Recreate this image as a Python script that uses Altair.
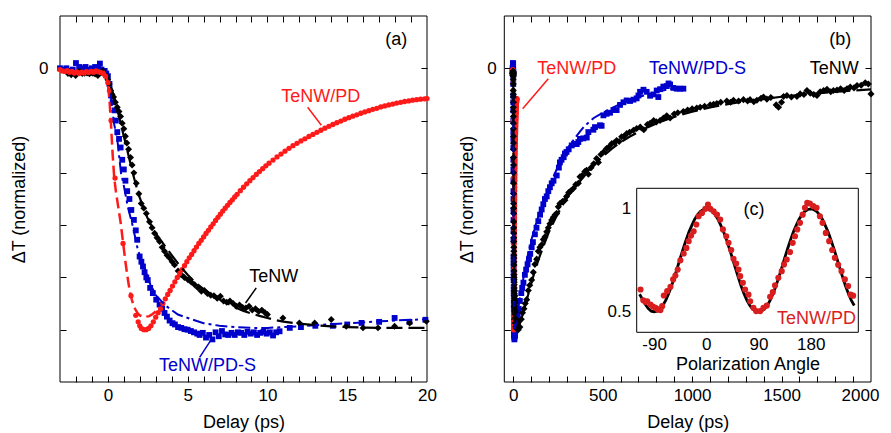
import altair as alt
import pandas as pd

FONT = "Liberation Sans"
RED = "#ff1a1a"
BLUE = "#0000cc"
BLACK = "#000000"
DRED = "#d81e1e"

# ---------------- data: panel (a) time window (ps) ----------------
red_pts = [(-3.0,-0.005),(-2.85,-0.01),(-2.7,-0.012),(-2.55,-0.009),(-2.4,-0.015),(-2.25,-0.012),
    (-2.1,-0.018),(-1.95,-0.014),(-1.8,-0.02),(-1.65,-0.015),(-1.5,-0.018),(-1.35,-0.013),(-1.2,-0.016),
    (-1.05,-0.012),(-0.9,-0.015),(-0.75,-0.01),(-0.6,-0.013),(-0.45,-0.016),(-0.3,-0.02),(-0.15,-0.03),
    (0.0,-0.055),(0.1,-0.085),(0.2,-0.2),(0.45,-0.42),(0.95,-0.67),(1.45,-0.87),(1.75,-0.945),
    (1.9,-0.97),(2.0,-0.985),(2.1,-0.995),(2.25,-1.0),(2.4,-1.0),
    (2.55,-0.995),(2.7,-0.985),(2.85,-0.97),(3.0,-0.952),(3.15,-0.935),(3.3,-0.92),(3.45,-0.9),
    (3.6,-0.882),(3.75,-0.865),(3.9,-0.85),(4.05,-0.833),(4.2,-0.817),(4.35,-0.8),(4.5,-0.785),
    (4.65,-0.77),(4.8,-0.755),(4.95,-0.74),(5.1,-0.725),(5.25,-0.712),(5.4,-0.698),(5.55,-0.684),
    (5.7,-0.67),(5.85,-0.658),(6.0,-0.645),(6.15,-0.632),(6.3,-0.62),(6.45,-0.607),(6.6,-0.595),
    (6.75,-0.582),(6.9,-0.57),(7.05,-0.558),(7.2,-0.546),(7.35,-0.535),(7.5,-0.524),(7.65,-0.513),
    (7.8,-0.503),(7.95,-0.492),(8.1,-0.482),(8.3,-0.468),(8.5,-0.455),(8.7,-0.442),(8.9,-0.43),
    (9.1,-0.418),(9.3,-0.406),(9.5,-0.395),(9.7,-0.384),(9.9,-0.373),(10.1,-0.363),(10.35,-0.351),
    (10.6,-0.339),(10.85,-0.328),(11.1,-0.317),(11.35,-0.306),(11.6,-0.296),(11.85,-0.287),
    (12.1,-0.278),(12.35,-0.27),(12.6,-0.261),(12.85,-0.253),(13.1,-0.245),(13.35,-0.237),
    (13.6,-0.229),(13.85,-0.222),(14.1,-0.215),(14.35,-0.208),(14.6,-0.202),(14.85,-0.195),
    (15.1,-0.189),(15.35,-0.183),(15.6,-0.178),(15.85,-0.172),(16.1,-0.167),(16.35,-0.162),
    (16.6,-0.157),(16.85,-0.153),(17.1,-0.148),(17.35,-0.144),(17.6,-0.14),(17.85,-0.137),
    (18.1,-0.133),(18.35,-0.13),(18.6,-0.127),(18.85,-0.125),(19.1,-0.122),(19.35,-0.12),
    (19.6,-0.118),(19.85,-0.117),(20.0,-0.116)]
red_fit = [(-0.3,-0.01),(-0.1,-0.03),(0.0,-0.06),(0.1,-0.12),(0.2,-0.22),(0.3,-0.33),(0.4,-0.42),
    (0.5,-0.47),(0.6,-0.51),(0.7,-0.55),(0.8,-0.59),(0.9,-0.64),(1.0,-0.69),(1.1,-0.74),(1.2,-0.785),
    (1.3,-0.825),(1.4,-0.86),(1.5,-0.885),(1.6,-0.905),(1.7,-0.92),(1.8,-0.93),(1.9,-0.94),(2.0,-0.945),
    (2.2,-0.95),(2.4,-0.95),(2.6,-0.948),(2.8,-0.94),(3.0,-0.93)]
blue_pts = [(-3.0,0.0),(-2.8,-0.005),(-2.6,0.0),(-2.4,-0.01),(-2.2,-0.005),(-2.0,0.02),(-1.8,0.005),
    (-1.6,0.0),(-1.4,0.005),(-1.2,-0.005),(-1.0,0.0),(-0.8,0.005),(-0.6,0.0),(-0.5,0.018),(-0.4,-0.005),
    (-0.2,-0.01),(-0.1,-0.02),(0.0,-0.03),(0.1,-0.06),(0.2,-0.104),(0.3,-0.13),(0.42,-0.161),(0.5,-0.2),
    (0.59,-0.244),(0.7,-0.27),(0.8,-0.303),(0.9,-0.35),(1.0,-0.387),(1.1,-0.43),(1.21,-0.47),(1.35,-0.5),
    (1.47,-0.542),(1.63,-0.58),(1.75,-0.62),(1.84,-0.656),(1.99,-0.72),(2.1,-0.74),(2.2,-0.758),
    (2.3,-0.78),(2.41,-0.8),(2.5,-0.81),(2.65,-0.84),(2.82,-0.86),(3.03,-0.885),(3.24,-0.904),
    (3.4,-0.92),(3.55,-0.936),(3.7,-0.95),(3.87,-0.965),(4.05,-0.975),(4.2,-0.98),(4.4,-0.99),
    (4.6,-0.993),(4.8,-0.998),(5.0,-1.0),(5.2,-1.005),(5.4,-1.01),(5.6,-1.015),(5.75,-1.02),
    (5.95,-1.012),(6.15,-1.03),(6.35,-1.02),(6.55,-1.037),(6.75,-1.01),(6.95,-1.025),(7.15,-1.005),
    (7.35,-1.018),(7.55,-1.02),(7.75,-1.012),(7.95,-1.02),(8.15,-1.01),(8.35,-1.012),(8.55,-1.02),
    (8.75,-1.008),(8.95,-1.015),(9.15,-1.01),(9.35,-1.02),(9.55,-1.012),(9.75,-1.008),(9.95,-1.015),
    (10.15,-1.01),(10.35,-1.022),(10.55,-1.01),(10.76,-1.006),(11.4,-0.993),(12.1,-0.99),(13.0,-0.985),
    (14.1,-0.985),(15.0,-0.98),(15.9,-0.974),(17.0,-0.97),(17.97,-0.955),(18.9,-0.97),(19.9,-0.962)]
blue_fit = [(0.17,-0.098),(0.38,-0.21),(0.59,-0.27),(0.73,-0.35),(0.84,-0.41),(0.94,-0.43),
    (1.25,-0.53),(1.57,-0.606),(1.88,-0.695),(2.3,-0.764),(2.61,-0.82),(3.03,-0.87),(3.66,-0.91),
    (4.39,-0.942),(5.23,-0.96),(6.0,-0.975),(7.0,-0.985),(8.0,-0.99),(9.0,-0.993),(10.0,-0.993),
    (11.0,-0.99),(12.0,-0.987),(13.0,-0.983),(14.0,-0.979),(15.0,-0.975),(16.0,-0.972),(17.0,-0.968),
    (18.0,-0.965),(19.0,-0.962),(20.0,-0.96)]
black_pts = [(-2.5,-0.02),(-2.3,-0.025),(-2.02,-0.028),(-1.9,-0.015),(-1.77,-0.011),(-1.6,-0.02),
    (-1.46,-0.019),(-1.3,-0.018),(-1.15,-0.021),(-1.05,-0.016),(-0.94,-0.019),(-0.8,-0.022),
    (-0.63,-0.028),(-0.5,-0.018),(-0.4,-0.015),(-0.31,-0.011),(-0.21,-0.024),(-0.1,-0.03),(0.0,-0.044),
    (0.08,-0.06),(0.17,-0.085),(0.26,-0.1),(0.36,-0.11),(0.47,-0.13),(0.59,-0.149),(0.7,-0.165),
    (0.8,-0.184),(0.9,-0.21),(1.0,-0.231),(1.1,-0.26),(1.19,-0.286),(1.3,-0.31),(1.42,-0.341),
    (1.52,-0.37),(1.63,-0.4),(1.78,-0.44),(1.94,-0.48),(2.09,-0.517),(2.25,-0.535),(2.41,-0.555),
    (2.61,-0.587),(2.77,-0.61),(2.93,-0.631),(3.08,-0.648),(3.24,-0.663),(3.4,-0.685),(3.55,-0.7),
    (3.71,-0.715),(3.87,-0.726),(4.03,-0.74),(4.18,-0.752),(4.4,-0.775),(4.6,-0.79),(4.8,-0.8),
    (5.02,-0.809),(5.23,-0.818),(5.44,-0.828),(5.65,-0.84),(5.86,-0.853),(6.05,-0.85),(6.25,-0.862),
    (6.45,-0.868),(6.65,-0.87),(6.85,-0.88),(7.05,-0.872),(7.25,-0.89),(7.45,-0.895),(7.65,-0.89),
    (7.85,-0.9),(8.05,-0.91),(8.25,-0.905),(8.45,-0.915),(8.65,-0.917),(8.85,-0.91),(9.05,-0.925),
    (9.25,-0.92),(9.45,-0.93),(9.65,-0.925),(9.85,-0.935),(10.0,-0.942),(10.97,-0.955),(12.0,-0.974),
    (12.96,-0.974),(14.0,-0.961),(14.94,-0.987),(15.99,-0.993),(16.93,-0.993),(17.97,-0.987),
    (18.91,-0.974),(19.96,-0.968)]
black_fit = [(0.2,-0.07),(0.4,-0.11),(0.6,-0.16),(0.8,-0.21),(1.0,-0.26),(1.2,-0.31),(1.4,-0.36),
    (1.6,-0.41),(1.8,-0.455),(2.0,-0.495),(2.2,-0.53),(2.5,-0.575),(2.8,-0.61),(3.1,-0.64),(3.4,-0.665),
    (3.7,-0.69),(4.0,-0.715),(4.5,-0.755),(5.0,-0.79),(5.5,-0.82),(6.0,-0.845),(6.5,-0.865),(7.0,-0.885),
    (7.5,-0.9),(8.0,-0.915),(8.5,-0.928),(9.0,-0.938),(9.5,-0.947),(10.0,-0.955),(10.5,-0.963),
    (11.0,-0.969),(12.0,-0.977),(13.0,-0.983),(14.0,-0.987),(15.0,-0.99),(16.0,-0.992),(17.0,-0.993),
    (18.0,-0.993),(19.0,-0.993),(20.0,-0.993)]

# ---------------- data: panel (b) long time window (ps) ----------------
blue_long = [(25,-0.94),(30,-0.92),(37,-0.89),(45,-0.86),(50,-0.84),(57,-0.82),(65,-0.79),(72,-0.77),
    (80,-0.75),(88,-0.73),(95,-0.71),(103,-0.685),(110,-0.665),(121,-0.635),(130,-0.61),(140,-0.585),
    (150,-0.56),(159,-0.54),(168,-0.52),(177,-0.5),(187,-0.49),(196,-0.47),(205,-0.455),(215,-0.44),
    (225,-0.43),(243,-0.41),(255,-0.38),(261,-0.36),(270,-0.35),(282,-0.34),(289,-0.326),(298,-0.32),
    (310,-0.31),(327,-0.295),(340,-0.29),(355,-0.29),(364,-0.282),(373,-0.27),(392,-0.268),(411,-0.265),
    (420,-0.244),(448,-0.235),(457,-0.225),(485,-0.218),(494,-0.22),(504,-0.18),(522,-0.174),
    (541,-0.17),(560,-0.16),(578,-0.16),(597,-0.14),(616,-0.13),(634,-0.123),(653,-0.125),(672,-0.12),
    (690,-0.115),(700,-0.104),(709,-0.09),(728,-0.082),(746,-0.09),(765,-0.105),(783,-0.1),(802,-0.085),
    (811,-0.11),(821,-0.08),(839,-0.07),(858,-0.068),(868,-0.058),(877,-0.062),(895,-0.075),
    (914,-0.078),(933,-0.078),(951,-0.078)]
blue_long_fit = [(30,-0.91),(40,-0.87),(60,-0.79),(80,-0.72),(100,-0.66),(125,-0.6),(150,-0.545),
    (175,-0.5),(200,-0.455),(225,-0.415),(250,-0.375),(275,-0.34),(300,-0.31),(325,-0.285),
    (350,-0.262),(375,-0.24),(400,-0.22),(450,-0.19),(500,-0.17),(550,-0.152),(600,-0.136),
    (650,-0.123),(700,-0.11),(750,-0.1),(800,-0.09),(850,-0.083),(900,-0.077),(950,-0.073)]
black_long = [(28,-1.0),(37,-0.99),(45,-0.96),(52,-0.935),(60,-0.92),(67,-0.9),(75,-0.885),(84,-0.85),
    (92,-0.83),(103,-0.81),(112,-0.78),(121,-0.75),(131,-0.73),(140,-0.7),(149,-0.685),(159,-0.675),
    (168,-0.655),(177,-0.645),(187,-0.625),(196,-0.61),(205,-0.595),(215,-0.58),(224,-0.57),(234,-0.56),
    (243,-0.555),(252,-0.53),(261,-0.517),(275,-0.51),(289,-0.505),(298,-0.49),(310,-0.475),(320,-0.47),
    (336,-0.46),(350,-0.445),(364,-0.44),(373,-0.415),(385,-0.41),(400,-0.395),(410,-0.39),(420,-0.405),
    (435,-0.38),(450,-0.365),(466,-0.345),(476,-0.36),(490,-0.33),(505,-0.32),(522,-0.307),(536,-0.3),
    (551,-0.288),(565,-0.285),(578,-0.276),(592,-0.28),(606,-0.262),(620,-0.26),(634,-0.25),
    (650,-0.245),(672,-0.237),(690,-0.23),(710,-0.225),(730,-0.235),(750,-0.215),(765,-0.21),
    (785,-0.2),(800,-0.205),(821,-0.2),(840,-0.19),(858,-0.182),(877,-0.19),(900,-0.175),(920,-0.17),
    (951,-0.165),(975,-0.16),(1000,-0.155),(1026,-0.152),(1045,-0.149),(1070,-0.145),(1101,-0.14),
    (1120,-0.138),(1138,-0.135),(1160,-0.13),(1194,-0.125),(1215,-0.13),(1231,-0.122),(1260,-0.125),
    (1287,-0.12),(1310,-0.125),(1324,-0.12),(1345,-0.128),(1362,-0.122),(1385,-0.115),(1399,-0.11),
    (1418,-0.118),(1440,-0.112),(1470,-0.14),(1483,-0.149),(1500,-0.13),(1511,-0.108),(1530,-0.104),
    (1555,-0.11),(1586,-0.108),(1604,-0.098),(1625,-0.1),(1642,-0.085),(1660,-0.095),(1680,-0.1),
    (1698,-0.104),(1716,-0.09),(1735,-0.085),(1754,-0.08),(1775,-0.09),(1790,-0.085),(1810,-0.083),
    (1830,-0.078),(1850,-0.085),(1866,-0.078),(1884,-0.072),(1905,-0.075),(1922,-0.066),(1945,-0.065),
    (1968,-0.055),(1985,-0.06),(2000,-0.098)]
black_long_fit = [(30,-0.99),(40,-0.97),(60,-0.925),(80,-0.875),(100,-0.825),(125,-0.765),
    (150,-0.715),(175,-0.67),(200,-0.625),(250,-0.555),(300,-0.495),(350,-0.45),(400,-0.41),
    (450,-0.372),(500,-0.338),(550,-0.308),(600,-0.283),(650,-0.262),(700,-0.243),(750,-0.226),
    (800,-0.211),(900,-0.186),(1000,-0.166),(1100,-0.15),(1200,-0.137),(1300,-0.126),(1400,-0.117),
    (1500,-0.109),(1600,-0.102),(1700,-0.096),(1800,-0.09),(1900,-0.085),(2000,-0.081)]

# ---------------- data: inset (c) polarization ----------------
pol_pts = [(-113.4,0.608),(-108.7,0.556),(-105,0.548),(-101.9,0.551),(-96.2,0.535),(-92,0.525),
    (-87.6,0.519),(-84,0.512),(-81.9,0.511),(-79,0.508),(-76.1,0.527),(-73.3,0.579),(-67.5,0.60),
    (-61.8,0.621),(-57.2,0.657),(-53.3,0.676),(-49.3,0.705),(-44.7,0.75),(-39,0.783),(-34.3,0.81),
    (-30.4,0.843),(-26.3,0.87),(-21.8,0.891),(-17.2,0.924),(-13.2,0.964),(-7.4,0.98),(-1.7,1.0),
    (2.9,1.021),(6.9,1.0),(12.6,0.988),(18.4,0.972),(24,0.948),(28.6,0.9),(34.4,0.867),(38.3,0.835),
    (42.9,0.80),(46.9,0.757),(51.5,0.734),(55.5,0.705),(58.4,0.673),(63,0.641),(66.9,0.608),
    (72.7,0.583),(75.6,0.551),(81.2,0.519),(85.9,0.503),(92.8,0.503),(98.5,0.519),(104.3,0.53),
    (110,0.573),(114.6,0.595),(118.5,0.628),(124.2,0.665),(130,0.697),(133.9,0.73),(138.6,0.754),
    (144.3,0.79),(148.9,0.835),(152.9,0.867),(156.8,0.9),(161.5,0.932),(166.1,0.972),(170,1.005),
    (174,1.029),(178.6,1.026),(184.3,1.013),(190.1,1.005),(195.8,0.964),(200.4,0.932),(206,0.883),
    (211.8,0.843),(217,0.80),(221.6,0.762),(227.3,0.728),(233.1,0.697),(238.8,0.657),(244.5,0.625),
    (248.6,0.583),(253.1,0.578)]
pol_fit = [(-115,0.585),(-110,0.56),(-105,0.535),(-100,0.515),(-95,0.503),(-90,0.5),(-85,0.503),
    (-80,0.512),(-75,0.53),(-70,0.555),(-65,0.588),(-60,0.625),(-55,0.668),(-50,0.713),(-45,0.76),
    (-40,0.805),(-35,0.848),(-30,0.887),(-25,0.92),(-20,0.95),(-15,0.972),(-10,0.988),(-5,0.997),
    (0,1.0),(5,0.997),(10,0.988),(15,0.972),(20,0.95),(25,0.92),(30,0.887),(35,0.848),(40,0.805),
    (45,0.76),(50,0.713),(55,0.668),(60,0.625),(65,0.588),(70,0.555),(75,0.53),(80,0.512),(85,0.503),
    (90,0.5),(95,0.503),(100,0.512),(105,0.53),(110,0.555),(115,0.588),(120,0.625),(125,0.668),
    (130,0.713),(135,0.76),(140,0.805),(145,0.848),(150,0.887),(155,0.92),(160,0.95),(165,0.972),
    (170,0.988),(175,0.997),(180,1.0),(185,0.997),(190,0.988),(195,0.972),(200,0.95),(205,0.92),
    (210,0.887),(215,0.848),(220,0.805),(225,0.76),(230,0.713),(235,0.668),(240,0.625),(245,0.588),
    (250,0.555),(255,0.53)]

# ---------------- axes / ticks ----------------
a_major = [0, 5, 10, 15, 20]
a_minor = list(range(-2, 20))
b_major = [0, 500, 1000, 1500, 2000]
b_minor = list(range(0, 2000, 100))
y_labels = [0]
y_ticks = [0, -0.2, -0.4, -0.6, -0.8, -1.0]
c_xlabels = [-90, 0, 90, 180]
c_ylabels = [0.5, 1]

# annotations (data units of each panel)
ann_a = [("(a)", 18.08, 0.108, BLACK), ("TeNW/PD", 13.34, -0.108, RED),
         ("TeNW", 10.39, -0.80, BLACK), ("TeNW/PD-S", 6.25, -1.139, BLUE)]
lead_a = [(12.52, -0.149, 13.38, -0.218, RED), (9.30, -0.84, 8.63, -0.898, BLACK),
          (5.75, -1.106, 6.56, -1.03, BLUE)]
ann_b = [("(b)", 1828, 0.108, BLACK), ("TeNW/PD", 355, -0.002, RED),
         ("TeNW/PD-S", 1030, -0.002, BLUE), ("TeNW", 1794, -0.002, BLACK)]
lead_b = [(196, -0.04, 52.6, -0.155, RED)]
ann_c = [("(c)", 82.4, 0.993, BLACK), ("TeNW/PD", 190, 0.466, DRED)]

# ---------------- layout (pixel ranges inside the 811 x 366 view) ----------------
W, H = 811, 366
AXD, AXR = [-3, 20], [0, 367]
BXD, BXR = [-50, 2000], [444.3, 811]
YD, YR = [-1.2, 0.2], [366, 0]
CXD, CXR = [-120, 262], [576.7, 798.3]
CYD, CYR = [0.4, 1.1], [316.3, 172.3]
TK = 6
LBL = "'' + datum.value"


def df(pts):
    return pd.DataFrame(pts, columns=["x", "y"])


def sc(d, r):
    return alt.Scale(domain=d, range=r, nice=False, zero=False)


def enc(xd, xr, yd, yr, xaxis=None, yaxis=None, xf="x", yf="y"):
    return dict(x=alt.X(f"{xf}:Q", scale=sc(xd, xr), axis=xaxis),
                y=alt.Y(f"{yf}:Q", scale=sc(yd, yr), axis=yaxis))


def tick_axis(orient, values, offset, size=TK):
    return alt.Axis(orient=orient, values=values, offset=offset, tickSize=size, ticks=True,
                    labels=False, domain=False, title=None, grid=False, tickColor="black", tickWidth=1)


def label_axis(orient, values, offset, title, pad, tpad, **extra):
    return alt.Axis(orient=orient, values=values, offset=offset, ticks=False, tickSize=0, domain=False,
                    labelPadding=pad, labelExpr=LBL, grid=False, titlePadding=tpad,
                    labelFlush=False, labelOverlap=False, title=title, **extra)


layers = []

# panel frames
frame_a = pd.DataFrame([{"x": AXD[0], "x2": AXD[1], "y": YD[0], "y2": YD[1]}])
frame_b = pd.DataFrame([{"x": BXD[0], "x2": BXD[1], "y": YD[0], "y2": YD[1]}])
frame_c = pd.DataFrame([{"x": CXD[0], "x2": CXD[1], "y": CYD[0], "y2": CYD[1]}])

e = enc(AXD, AXR, YD, YR,
        label_axis("bottom", a_major, 0, "Delay (ps)", 5, 10),
        label_axis("left", y_labels, 0, "ΔT (normalized)", 12, 10))
layers.append(alt.Chart(frame_a).mark_rect(filled=False, stroke="black", strokeWidth=1)
              .encode(x2="x2:Q", y2="y2:Q", **e))

# panel (a) data
e = enc(AXD, AXR, YD, YR, tick_axis("bottom", a_minor, -TK), tick_axis("left", y_ticks, -TK))
layers.append(alt.Chart(df(blue_pts)).mark_point(shape="square", filled=True, size=34, color=BLUE, opacity=1).encode(**e))
e = enc(AXD, AXR, YD, YR, tick_axis("top", a_minor, -TK), tick_axis("right", y_ticks, -(W - AXR[1]) - TK))
layers.append(alt.Chart(df(black_pts)).mark_point(shape="diamond", filled=True, size=48, color=BLACK, opacity=1).encode(**e))
e = enc(AXD, AXR, YD, YR)
layers.append(alt.Chart(df(red_pts)).mark_circle(size=28, color=RED, opacity=1).encode(**e))
layers.append(alt.Chart(df(red_fit)).mark_line(color=RED, strokeWidth=2.5, strokeDash=[11, 5]).encode(**e))
layers.append(alt.Chart(df(blue_fit)).mark_line(color=BLUE, strokeWidth=2, strokeDash=[12, 4, 3, 4]).encode(**e))
layers.append(alt.Chart(df(black_fit)).mark_line(color=BLACK, strokeWidth=2.2, strokeDash=[16, 6]).encode(**e))

lead_a_df = pd.DataFrame(lead_a, columns=["x", "y", "x2", "y2", "c"])
ann_a_df = pd.DataFrame(ann_a, columns=["t", "x", "y", "c"])
for col in [RED, BLACK, BLUE]:
    layers.append(alt.Chart(lead_a_df[lead_a_df.c == col]).mark_rule(color=col, strokeWidth=1.5)
                  .encode(x2="x2:Q", y2="y2:Q", **e))
    layers.append(alt.Chart(ann_a_df[ann_a_df.c == col]).mark_text(font=FONT, fontSize=18, color=col,
                  align="center", baseline="middle").encode(text="t:N", **e))

# panel (b)
last_shift = {"condition": {"test": "datum.value == 2000", "value": -11}, "value": 0}
e = enc(BXD, BXR, YD, YR,
        label_axis("bottom", b_major, 0, "Delay (ps)", 5, 10, labelOffset=last_shift),
        label_axis("left", y_labels, -BXR[0], "ΔT (normalized)", 8, 10))
layers.append(alt.Chart(frame_b).mark_rect(filled=False, stroke="black", strokeWidth=1)
              .encode(x2="x2:Q", y2="y2:Q", **e))
e = enc(BXD, BXR, YD, YR, tick_axis("bottom", b_minor, -TK), tick_axis("left", y_ticks, -BXR[0] - TK))
layers.append(alt.Chart(df(blue_pts + blue_long)).mark_point(shape="square", filled=True, size=34, color=BLUE, opacity=1).encode(**e))
e = enc(BXD, BXR, YD, YR, tick_axis("top", b_minor, -TK), tick_axis("right", y_ticks, -TK))
layers.append(alt.Chart(df(red_pts)).mark_circle(size=28, color=RED, opacity=1).encode(**e))
e = enc(BXD, BXR, YD, YR)
layers.append(alt.Chart(df(black_pts + black_long)).mark_point(shape="diamond", filled=True, size=50, color=BLACK, opacity=1).encode(**e))
layers.append(alt.Chart(df(blue_fit + blue_long_fit)).mark_line(color=BLUE, strokeWidth=2, strokeDash=[12, 4, 3, 4]).encode(**e))
layers.append(alt.Chart(df(black_fit + black_long_fit)).mark_line(color=BLACK, strokeWidth=2.2, strokeDash=[16, 6]).encode(**e))
lead_b_df = pd.DataFrame(lead_b, columns=["x", "y", "x2", "y2", "c"])
ann_b_df = pd.DataFrame(ann_b, columns=["t", "x", "y", "c"])
layers.append(alt.Chart(lead_b_df).mark_rule(color=RED, strokeWidth=1.5).encode(x2="x2:Q", y2="y2:Q", **e))
for col in [RED, BLACK, BLUE]:
    layers.append(alt.Chart(ann_b_df[ann_b_df.c == col]).mark_text(font=FONT, fontSize=18, color=col,
                  align="center", baseline="middle").encode(text="t:N", **e))

# inset (c)
e = enc(CXD, CXR, CYD, CYR,
        label_axis("bottom", c_xlabels, CYR[0] - H, "Polarization Angle", 4, 3),
        label_axis("left", c_ylabels, -CXR[0], None, 6, 4))
layers.append(alt.Chart(frame_c).mark_rect(fill="white", stroke="black", strokeWidth=1)
              .encode(x2="x2:Q", y2="y2:Q", **e))
e = enc(CXD, CXR, CYD, CYR, tick_axis("bottom", c_xlabels, CYR[0] - H - 5, 5),
        tick_axis("left", c_ylabels, -CXR[0] - 5, 5))
layers.append(alt.Chart(df(pol_fit)).mark_line(color=BLACK, strokeWidth=2.8).encode(**e))
e = enc(CXD, CXR, CYD, CYR)
layers.append(alt.Chart(df(pol_pts)).mark_circle(size=38, color=DRED, opacity=1).encode(**e))
ann_c_df = pd.DataFrame(ann_c, columns=["t", "x", "y", "c"])
for col in [BLACK, DRED]:
    layers.append(alt.Chart(ann_c_df[ann_c_df.c == col]).mark_text(font=FONT, fontSize=18, color=col,
                  align="center", baseline="middle").encode(text="t:N", **e))

chart = (alt.layer(*layers)
         .resolve_scale(x="independent", y="independent")
         .properties(width=W, height=H, autosize=alt.AutoSizeParams(type="none"),
                     padding={"left": 52, "top": 8, "right": 12, "bottom": 50})
         .configure_view(strokeWidth=0)
         .configure_axis(grid=False, labelFont=FONT, titleFont=FONT, labelFontSize=17,
                         titleFontSize=18, titleFontWeight="normal", labelColor="black",
                         titleColor="black"))

chart.save("out.html", embed_options={"renderer": "svg", "actions": False})
